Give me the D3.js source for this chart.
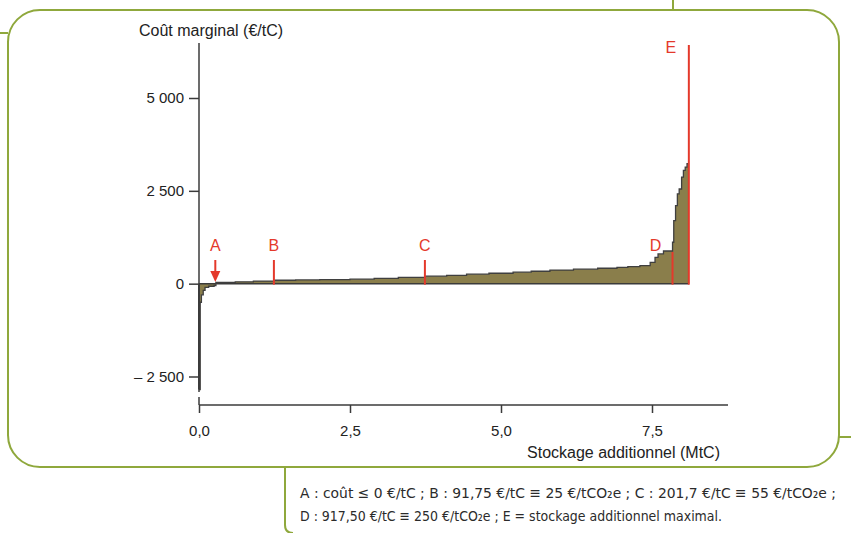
<!DOCTYPE html>
<html>
<head>
<meta charset="utf-8">
<script src="https://cdn.jsdelivr.net/npm/d3@7"></script>
<style>
  body { margin: 0; background: #fff; }
  svg { display: block; }
</style>
</head>
<body>
<div id="chart"></div>
<script>
// Step curve: cumulative additional storage (MtC) and marginal cost (€/tC)
const stock = [0, 0.02, 0.04, 0.07, 0.10, 0.16, 0.25, 0.28, 0.6, 0.9, 1.24, 1.6, 2.0, 2.5, 2.9, 3.3, 3.74, 4.1, 4.43, 4.8, 5.2, 5.5, 5.81, 6.2, 6.6, 6.92, 7.1, 7.30, 7.47, 7.55, 7.60, 7.69, 7.84, 7.86, 7.89, 7.92, 7.95, 7.99, 8.02, 8.05, 8.08, 8.11];
const cost = [-2850, -500, -300, -180, -100, -70, -50, 35, 50, 70, 92, 100, 110, 120, 140, 170, 202, 225, 255, 280, 310, 335, 365, 390, 415, 440, 460, 485, 575, 710, 800, 880, 1115, 1700, 2100, 2420, 2550, 2870, 3050, 3140, 3230, 3230];

// Annotated points
const markerLabels = ["A", "B", "C", "D"];
const markerStock = [0.27, 1.24, 3.74, 7.84];
const maxStock = 8.11;

// Axes
const xTicks = [0, 2.5, 5, 7.5];
const xTickLabels = ["0,0", "2,5", "5,0", "7,5"];
const yTicks = [-2500, 0, 2500, 5000];
const yTickLabels = ["– 2 500", "0", "2 500", "5 000"];

const captionLines = [
    "A : coût ≤ 0 €/tC ; B : 91,75 €/tC ≡ 25 €/tCO₂e ; C : 201,7 €/tC ≡ 55 €/tCO₂e ;",
    "D : 917,50 €/tC ≡ 250 €/tCO₂e ; E = stockage additionnel maximal."
];

const W = 851, H = 533;
const red = "#e4392b", axisCol = "#3b3b3b", green = "#8fa83c";
const font = "'Liberation Sans', Arial, Helvetica, sans-serif";

const svg = d3.select("#chart").append("svg")
    .attr("width", W).attr("height", H);

// Frame
svg.append("rect")
    .attr("x", 8).attr("y", 10).attr("width", 831).attr("height", 457)
    .attr("rx", 32).attr("ry", 32)
    .attr("fill", "none").attr("stroke", green).attr("stroke-width", 2);
svg.append("path").attr("d", "M0,33H8M673,0V10M839,437H851M285,467V525Q285,533 293,533")
    .attr("fill", "none").attr("stroke", green).attr("stroke-width", 2);

const x = d3.scaleLinear().domain([0, 7.5]).range([199, 652]);
const y = d3.scaleLinear().domain([-2500, 5000]).range([376.5, 98]);

const data = stock.map((s, i) => ({s: s, c: cost[i]}));

// Area under the curve
svg.append("path")
    .datum(data)
    .attr("fill", "#8a7e4b")
    .attr("d", d3.area().curve(d3.curveStepAfter)
        .x(d => x(d.s)).y0(y(0)).y1(d => y(d.c)));

// Zero line
svg.append("line")
    .attr("x1", x(0)).attr("x2", x(maxStock))
    .attr("y1", y(0)).attr("y2", y(0))
    .attr("stroke", axisCol).attr("stroke-width", 1.5);

// Curve outline
svg.append("path")
    .datum(data)
    .attr("fill", "none")
    .attr("stroke", "#3f3f3f")
    .attr("stroke-width", 1.3)
    .attr("d", d3.line().curve(d3.curveStepAfter)
        .x(d => x(d.s)).y(d => y(d.c)));
svg.append("line")
    .attr("x1", x(0)).attr("x2", x(0))
    .attr("y1", y(0)).attr("y2", y(cost[0]))
    .attr("stroke", "#3f3f3f").attr("stroke-width", 2);

// Y axis
svg.append("line")
    .attr("x1", 199).attr("x2", 199).attr("y1", 43).attr("y2", 392)
    .attr("stroke", axisCol).attr("stroke-width", 1.5);
const yAxis = svg.append("g")
    .attr("transform", "translate(199,0)")
    .call(d3.axisLeft(y).tickValues(yTicks).tickSize(10).tickPadding(5)
        .tickFormat((d, i) => yTickLabels[i]));
yAxis.select(".domain").remove();
yAxis.selectAll("line").attr("stroke", axisCol).attr("stroke-width", 1.5);
yAxis.selectAll("text").attr("font-family", font).attr("font-size", 15).attr("fill", "#222");

// X axis
const xAxis = svg.append("g")
    .attr("transform", "translate(0,405)")
    .call(d3.axisBottom(x).tickValues(xTicks).tickSize(8).tickPadding(12)
        .tickFormat((d, i) => xTickLabels[i]));
xAxis.select(".domain").attr("d", "M199,0H728").attr("stroke", axisCol).attr("stroke-width", 1.5);
xAxis.selectAll("line").attr("stroke", axisCol).attr("stroke-width", 1.5);
xAxis.selectAll("text").attr("font-family", font).attr("font-size", 15).attr("fill", "#222");
svg.append("line")
    .attr("x1", 199).attr("x2", 199).attr("y1", 397).attr("y2", 405)
    .attr("stroke", axisCol).attr("stroke-width", 1.5);

// Axis titles
svg.append("text").attr("x", 139).attr("y", 36)
    .attr("font-family", font).attr("font-size", 16).attr("fill", "#222")
    .text("Coût marginal (€/tC)");
svg.append("text").attr("x", 720).attr("y", 458).attr("text-anchor", "end")
    .attr("font-family", font).attr("font-size", 16).attr("fill", "#222")
    .text("Stockage additionnel (MtC)");

// Markers
markerLabels.forEach((lab, i) => {
    const mx = x(markerStock[i]);
    if (lab === "A") {
        svg.append("line").attr("x1", mx).attr("x2", mx)
            .attr("y1", 260).attr("y2", 272)
            .attr("stroke", red).attr("stroke-width", 2);
        svg.append("path")
            .attr("d", `M${mx - 5},271L${mx + 5},271L${mx},282Z`)
            .attr("fill", red);
    } else {
        const top = lab === "D" ? 252 : 260;
        svg.append("line").attr("x1", mx).attr("x2", mx)
            .attr("y1", top).attr("y2", y(0) + 1)
            .attr("stroke", red).attr("stroke-width", 2);
    }
    svg.append("text")
        .attr("x", lab === "D" ? mx - 17 : mx).attr("y", 251)
        .attr("text-anchor", "middle")
        .attr("font-family", font).attr("font-size", 16).attr("fill", red)
        .text(lab);
});
svg.append("line")
    .attr("x1", x(maxStock)).attr("x2", x(maxStock))
    .attr("y1", 45).attr("y2", y(0) + 1)
    .attr("stroke", red).attr("stroke-width", 2);
svg.append("text")
    .attr("x", x(maxStock) - 18).attr("y", 53).attr("text-anchor", "middle")
    .attr("font-family", font).attr("font-size", 16).attr("fill", red)
    .text("E");

// Caption
const capFont = "'DejaVu Sans Condensed', 'Liberation Sans Narrow', 'Open Sans', sans-serif";
const capWidths = [536, 422];
svg.selectAll(".caption")
    .data(captionLines)
    .enter()
    .append("text")
    .attr("class", "caption")
    .attr("x", 300).attr("y", (d, i) => 498 + i * 23)
    .attr("font-family", capFont).attr("font-size", 14.5).attr("fill", "#2b2b2b")
    .attr("textLength", (d, i) => capWidths[i]).attr("lengthAdjust", "spacingAndGlyphs")
    .text(d => d);
</script>
</body>
</html>
